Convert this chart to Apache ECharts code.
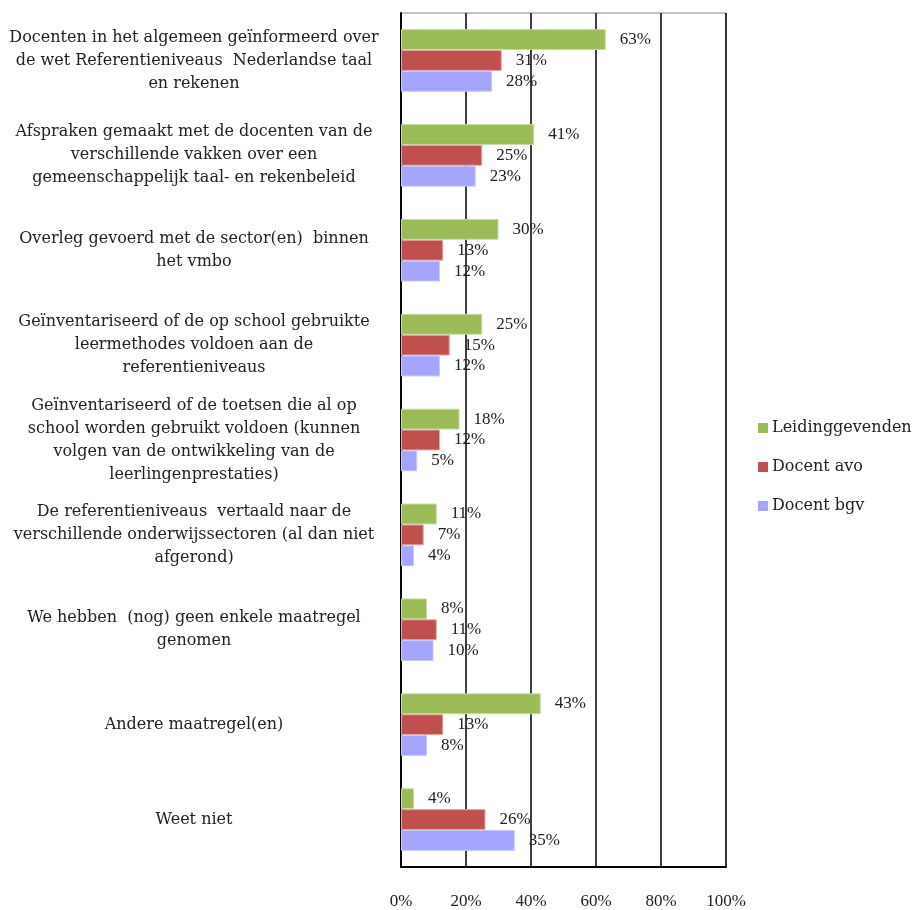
<!DOCTYPE html>
<html>
<head>
<meta charset="utf-8">
<script src="https://cdn.jsdelivr.net/npm/echarts@6/dist/echarts.min.js"></script>
<style>
  html, body { margin: 0; padding: 0; background: #fff; }
  #chart { width: 915px; height: 910px; }
</style>
</head>
<body>
<div id="chart"></div>
<script>
// categorieen, van boven naar beneden
const categories = [
  "Docenten in het algemeen geïnformeerd over\nde wet Referentieniveaus  Nederlandse taal\nen rekenen",
  "Afspraken gemaakt met de docenten van de\nverschillende vakken over een\ngemeenschappelijk taal- en rekenbeleid",
  "Overleg gevoerd met de sector(en)  binnen\nhet vmbo",
  "Geïnventariseerd of de op school gebruikte\nleermethodes voldoen aan de\nreferentieniveaus",
  "Geïnventariseerd of de toetsen die al op\nschool worden gebruikt voldoen (kunnen\nvolgen van de ontwikkeling van de\nleerlingenprestaties)",
  "De referentieniveaus  vertaald naar de\nverschillende onderwijssectoren (al dan niet\nafgerond)",
  "We hebben  (nog) geen enkele maatregel\ngenomen",
  "Andere maatregel(en)",
  "Weet niet"
];
const seriesNames = ["Leidinggevenden", "Docent avo", "Docent bgv"];
const leidinggevenden = [63, 41, 30, 25, 18, 11, 8, 43, 4];
const docentAvo = [31, 25, 13, 15, 12, 7, 11, 13, 26];
const docentBgv = [28, 23, 12, 12, 5, 4, 10, 8, 35];
const xTicks = [0, 20, 40, 60, 80, 100];

const font = "Liberation Serif";
const wideFont = "DejaVu Serif";
const colors = ["#9BBB59", "#C0504D", "#A5A5FF"];
const borders = ["#c9dba6", "#e0a8a6", "#c8c8ff"];

const chart = echarts.init(document.getElementById("chart"));

function makeSeries(name, data, i) {
  return {
    name: name,
    type: "bar",
    data: data,
    barGap: "0%",
    barCategoryGap: "34%",
    itemStyle: { color: colors[i], borderColor: borders[i], borderWidth: 1 },
    label: {
      show: true,
      position: "right",
      distance: 14,
      formatter: "{c}%",
      color: "#222",
      fontFamily: font,
      fontSize: 17
    },
    emphasis: { disabled: true }
  };
}

const option = {
  animation: false,
  textStyle: { fontFamily: font },
  legend: {
    orient: "vertical",
    left: 753,
    top: 415,
    itemWidth: 10,
    itemHeight: 10,
    itemGap: 23,
    icon: "rect",
    data: seriesNames,
    itemStyle: { borderWidth: 0 },
    textStyle: { color: "#222", fontFamily: wideFont, fontSize: 16, lineHeight: 16, padding: [0, 0, 0, -1] }
  },
  grid: {
    left: 401,
    right: 189,
    top: 13,
    bottom: 41,
    show: true,
    borderColor: "#888",
    borderWidth: 1
  },
  xAxis: {
    type: "value",
    min: xTicks[0],
    max: xTicks[xTicks.length - 1],
    interval: 20,
    axisLine: { show: true, lineStyle: { color: "#000", width: 2 } },
    axisTick: { show: false },
    splitLine: { show: true, lineStyle: { color: "#000", width: 1.5 } },
    axisLabel: {
      formatter: "{value}%",
      color: "#222",
      fontFamily: font,
      fontSize: 17,
      margin: 26
    }
  },
  yAxis: {
    type: "category",
    data: categories,
    inverse: true,
    axisLine: { show: true, lineStyle: { color: "#000", width: 2 } },
    axisTick: { show: false },
    axisLabel: {
      align: "center",
      margin: 207,
      color: "#222",
      fontFamily: wideFont,
      fontSize: 16,
      lineHeight: 23
    }
  },
  series: [
    makeSeries(seriesNames[0], leidinggevenden, 0),
    makeSeries(seriesNames[1], docentAvo, 1),
    makeSeries(seriesNames[2], docentBgv, 2)
  ]
};

chart.setOption(option);
</script>
</body>
</html>
